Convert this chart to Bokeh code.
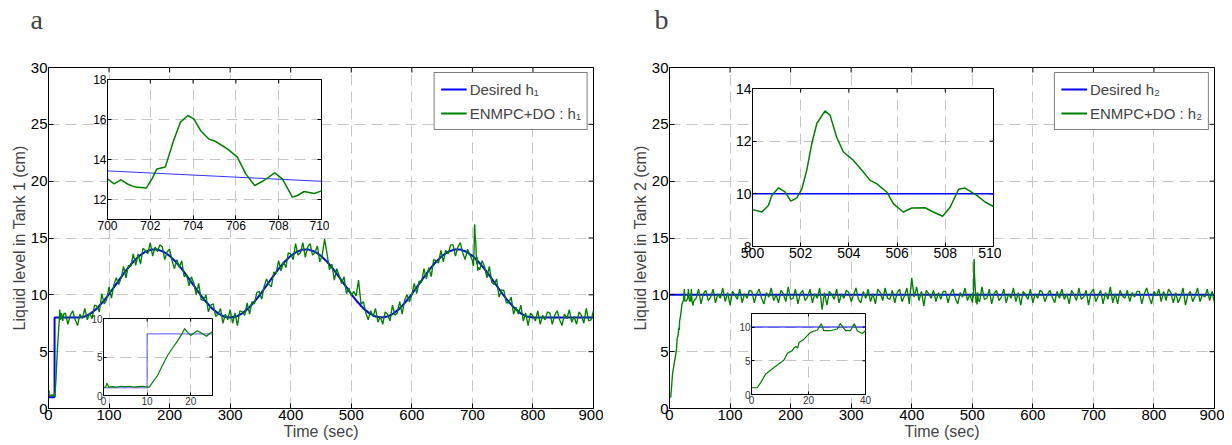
import math
from bokeh.plotting import figure
from bokeh.models import Range1d, FixedTicker, Legend, LegendItem
from bokeh.embed import file_html
from bokeh.resources import INLINE

# ---------------- data ----------------
# panel a : desired h1
des1_t = [0, 10, 10] + list(range(20, 801, 10)) + [900]
des1_v = [1, 1, 8, 8, 8, 8,
          8.00, 8.09, 8.37, 8.81, 9.39, 10.07, 10.81, 11.56, 12.28, 12.91, 13.43, 13.79, 13.98,
          13.98, 13.79, 13.43, 12.91, 12.28, 11.56, 10.81, 10.07, 9.39, 8.81, 8.37, 8.09, 8.00,
          8.09, 8.37, 8.81, 9.39, 10.07, 10.81, 11.56, 12.28, 12.91, 13.43, 13.79, 13.98,
          13.98, 13.79, 13.43, 12.91, 12.28, 11.56, 10.81, 10.07, 9.39, 8.81, 8.37, 8.09, 8.00,
          8.09, 8.37, 8.81, 9.39, 10.07, 10.81, 11.56, 12.28, 12.91, 13.43, 13.79, 13.98,
          13.98, 13.79, 13.43, 12.91, 12.28, 11.56, 10.81, 10.07, 9.39, 8.81, 8.37, 8.09, 8.00,
          8.00]

# panel a : measured h1, start-up detail (0-25 s)
h1_start_t = [0, 0.5, 0.8, 1.2, 2, 3, 4, 5, 6, 7, 8, 9, 10, 10.5, 11, 12.4, 13.5, 14.7, 16, 17,
              18, 18.6, 19.3, 20, 21.5, 22.5, 23.6, 25]
h1_start_v = [1.0, 1.1, 1.6, 1.1, 1.15, 1.1, 1.2, 1.15, 1.2, 1.1, 1.15, 1.2, 1.1, 1.1, 1.5, 2.6,
              3.9, 5.2, 6.3, 7.1, 8.0, 8.7, 8.2, 7.8, 8.4, 8.1, 7.7, 8.3]
# measured h1 every 4 s from 28 s to 696 s
h1_a_v = [8.4, 7.4, 8.2, 8.6, 7.8, 7.3, 8.3, 7.9, 8.8, 7.8,
          8.4, 7.9, 9.1, 9.0, 8.5, 10.1, 9.2, 9.6, 10.7, 9.7,
          10.9, 11.5, 10.9, 11.5, 12.5, 11.5, 12.6, 12.5, 13.6, 12.6,
          13.6, 12.7, 14.1, 13.9, 13.6, 14.6, 13.4, 14.2, 13.8, 14.4,
          14.2, 13.1, 13.8, 14.0, 13.0, 12.3, 13.1, 12.4, 13.0, 11.6,
          11.8, 10.8, 11.6, 11.0, 10.0, 11.0, 9.6, 9.5, 10.0, 8.5,
          9.1, 9.2, 8.1, 8.3, 8.8, 7.5, 8.3, 7.8, 8.7, 7.5,
          8.4, 7.3, 8.6, 8.5, 8.2, 9.3, 8.3, 9.4, 9.2, 10.2,
          10.3, 9.6, 10.7, 11.4, 10.9, 10.7, 12.0, 11.9, 13.0, 12.1,
          12.9, 12.4, 13.7, 13.6, 13.1, 14.5, 13.5, 13.7, 14.6, 13.3,
          14.2, 14.5, 13.5, 13.7, 14.3, 12.9, 13.5, 14.9, 13.6, 12.2,
          12.7, 11.3, 12.3, 11.7, 11.0, 11.6, 10.1, 10.6, 9.9, 10.3,
          9.9, 11.3, 9.2, 9.4, 8.4, 7.8, 8.6, 8.1, 8.8, 7.6,
          8.1, 7.4, 8.5, 8.3, 7.7, 9.1, 8.2, 8.4, 9.4, 8.3,
          9.5, 10.0, 9.4, 10.0, 11.0, 10.1, 11.2, 11.1, 12.3, 11.4,
          12.4, 11.6, 13.1, 13.0, 12.8, 13.9, 12.9, 13.9, 13.6, 14.4,
          14.4, 13.4, 14.2, 14.6, 13.7, 13.1, 14.0, 13.5]
# measured h1 detail 700-710 s
h1_zoom_t = [700.0, 700.31, 700.63, 700.98, 701.3, 701.81, 702.08, 702.31, 702.7, 703.09,
             703.41, 703.75, 704.03, 704.35, 704.73, 705.05, 705.6, 706.07, 706.46, 706.88,
             707.31, 707.81, 708.17, 708.64, 708.88, 709.19, 709.66, 710.0]
h1_zoom_v = [13.03, 12.78, 12.98, 12.75, 12.62, 12.57, 13.03, 13.53, 13.62, 14.95,
             15.87, 16.2, 16.03, 15.45, 15.03, 14.9, 14.53, 14.12, 13.28, 12.7,
             12.95, 13.33, 13.03, 12.12, 12.2, 12.4, 12.3, 12.43]
# measured h1 every 4 s from 712 s to 900 s
h1_b_v = [12.2, 13.0, 12.5, 11.5, 12.5, 11.1, 10.9, 11.4, 9.8, 10.4,
          10.4, 9.3, 9.3, 9.8, 8.3, 8.9, 8.3, 9.1, 7.7, 8.4,
          7.3, 8.4, 8.1, 7.7, 8.6, 7.4, 8.2, 7.8, 8.5, 8.4,
          7.4, 8.2, 8.6, 7.8, 7.3, 8.3, 7.9, 8.7, 7.6, 8.1,
          7.4, 8.5, 8.2, 7.5, 8.8, 7.7, 7.8, 8.6]

# panel b : desired h2
des2_t = [0, 900]
des2_v = [10, 10]
# measured h2 start-up detail (0-40 s)
h2_start_t = [0, 2, 3.3, 5.0, 7.9, 11.4, 12.6, 14.3, 14.9, 15.5, 16.2, 16.7, 18.4, 20.7, 23.1,
              24.5, 25.4, 27.7, 30.1, 31.2, 33.0, 34.7, 36.1, 37.1, 38.8, 40]
h2_start_v = [1.0, 1.0, 1.8, 3.05, 4.0, 5.1, 6.1, 6.5, 6.9, 7.1, 6.9, 7.7, 8.2, 9.2, 9.55,
              10.5, 9.45, 9.45, 9.7, 10.5, 9.45, 9.45, 10.5, 9.45, 9.05, 9.45]
# measured h2 every 4 s from 44 s to 496 s
h2_a_v = [9.7, 10.5, 9.2, 10.1, 10.4, 9.5, 9.8, 10.5, 9.3, 10.1,
          9.7, 10.6, 9.4, 10.2, 9.1, 10.3, 10.0, 9.6, 10.5, 9.3,
          10.1, 9.7, 10.4, 10.3, 9.3, 10.1, 10.5, 9.7, 9.2, 10.2,
          9.8, 10.6, 9.5, 10.0, 9.3, 10.4, 10.1, 9.4, 10.7, 9.6,
          9.7, 10.5, 9.2, 10.1, 10.4, 9.5, 9.8, 10.5, 9.3, 10.1,
          9.7, 10.6, 8.7, 10.2, 9.1, 10.3, 10.0, 9.6, 10.5, 9.3,
          10.1, 9.7, 10.4, 10.2, 9.4, 10.0, 10.6, 9.6, 9.3, 10.3,
          9.7, 10.5, 9.4, 10.1, 9.2, 10.5, 10.2, 9.5, 10.6, 9.7,
          9.6, 10.4, 9.3, 10.2, 10.5, 9.4, 9.9, 10.6, 9.2, 11.5,
          9.8, 10.7, 9.5, 10.3, 9.0, 10.4, 10.1, 9.7, 10.4, 9.4,
          10.2, 9.6, 10.3, 10.3, 9.3, 10.1, 10.5, 9.7, 9.2, 10.2,
          9.8, 10.6, 9.5, 10.0]
# measured h2 detail 500-510 s
h2_zoom_t = [500, 500.39, 500.66, 500.8, 501.08, 501.35, 501.59, 501.84, 502.05, 502.25,
             502.46, 502.67, 503.01, 503.22, 503.49, 503.77, 504.19, 504.6, 504.88, 505.15,
             505.57, 505.85, 506.26, 506.61, 507.16, 507.5, 507.89, 508.2, 508.55, 508.82,
             509.31, 509.65, 510]
h2_zoom_v = [9.40, 9.31, 9.56, 9.94, 10.23, 10.07, 9.72, 9.85, 10.19, 10.89,
             11.91, 12.67, 13.15, 12.98, 12.16, 11.59, 11.27, 10.83, 10.51, 10.39,
             10.07, 9.62, 9.31, 9.46, 9.47, 9.31, 9.15, 9.49, 10.17, 10.22,
             9.94, 9.69, 9.52]
# measured h2 every 4 s from 512 s to 900 s
h2_b_v = [9.4, 10.7, 9.6, 9.7, 10.5, 9.2, 10.1, 10.4, 9.5, 9.8,
          10.5, 9.3, 10.1, 9.7, 10.6, 9.4, 10.2, 9.1, 10.3, 10.0,
          9.6, 10.5, 9.3, 10.1, 9.7, 10.4, 10.2, 9.4, 10.0, 10.4,
          9.8, 9.3, 10.3, 9.7, 10.5, 9.6, 10.1, 9.2, 10.4, 10.0,
          9.5, 10.6, 9.6, 9.8, 10.4, 9.1, 10.2, 10.5, 9.4, 9.9,
          10.4, 9.2, 10.2, 9.6, 10.7, 9.3, 10.1, 9.2, 10.4, 9.9,
          9.7, 10.4, 9.4, 10.2, 9.8, 10.3, 10.3, 9.2, 10.1, 10.6,
          9.8, 9.2, 10.3, 9.9, 10.5, 9.4, 10.3, 9.5, 10.5, 10.2,
          9.3, 10.2, 9.3, 9.8, 10.6, 9.1, 10.0, 10.3, 9.4, 9.9,
          10.6, 9.4, 10.0, 9.8, 10.5, 9.5, 10.3, 9.3]

x_ticks_main = list(range(0, 901, 100))
y_ticks_main = list(range(0, 31, 5))

# assemble measured series (sample times on a 4 s grid)
h1_t = (h1_start_t + [28 + 4 * i for i in range(len(h1_a_v))] + h1_zoom_t
        + [712 + 4 * i for i in range(len(h1_b_v))])
h1_v = h1_start_v + h1_a_v + h1_zoom_v + h1_b_v
h2_t = (h2_start_t + [44 + 4 * i for i in range(len(h2_a_v))] + h2_zoom_t
        + [512 + 4 * i for i in range(len(h2_b_v))])
h2_v = h2_start_v + h2_a_v + h2_zoom_v + h2_b_v

# ---------------- style ----------------
SANS = "Liberation Sans"
SERIF = "Liberation Serif"
GRID = "#c6c6c6"
BLUE = "#0000ff"
GREEN = "#008000"


def make_fig(fl, ft, fw, fh, xr, yr, xt, yt, bl, bt, br, bb, fs, tick_len,
             lab_color="#000000", border_fill=None):
    p = figure(x_range=Range1d(*xr), y_range=Range1d(*yr),
               frame_width=fw, frame_height=fh,
               min_border_left=bl, min_border_top=bt, min_border_right=br, min_border_bottom=bb,
               output_backend="svg", toolbar_location=None, tools="",
               styles={"position": "absolute", "left": f"{fl - bl}px", "top": f"{ft - bt}px"})
    p.border_fill_color = border_fill
    p.background_fill_color = "white"
    p.outline_line_color = "black"
    p.outline_line_width = 1
    for ax, ticks in ((p.xaxis[0], xt), (p.yaxis[0], yt)):
        ax.ticker = FixedTicker(ticks=ticks)
        ax.major_tick_in = tick_len
        ax.major_tick_out = 0
        ax.minor_tick_in = 0
        ax.minor_tick_out = 0
        ax.major_tick_line_color = "black"
        ax.axis_line_color = "black"
        ax.major_label_text_font = SANS
        ax.major_label_text_font_size = fs
        ax.major_label_text_color = lab_color
        ax.major_label_standoff = 1
        ax.axis_label_text_font = SANS
        ax.axis_label_text_font_style = "normal"
        ax.axis_label_text_font_size = "16px"
        ax.axis_label_standoff = 0
    p.xgrid[0].ticker = FixedTicker(ticks=xt)
    p.ygrid[0].ticker = FixedTicker(ticks=yt)
    for g in (p.xgrid[0], p.ygrid[0]):
        g.grid_line_color = GRID
        g.grid_line_dash = "11 6"
        g.grid_line_width = 1
    # mirrored inward ticks on the top and right edges (clipped to the frame)
    p.scatter(xt, [yr[1]] * len(xt), marker="dash", size=2 * tick_len, angle=math.pi / 2,
              line_color="black", line_width=1)
    p.scatter([xr[1]] * len(yt), yt, marker="dash", size=2 * tick_len,
              line_color="black", line_width=1)
    return p


def letter_fig(text, left, top):
    p = figure(frame_width=24, frame_height=2, min_border_left=0, min_border_right=0,
               min_border_top=0, min_border_bottom=0, title=text,
               output_backend="svg", toolbar_location=None, tools="",
               styles={"position": "absolute", "left": f"{left}px", "top": f"{top}px"})
    p.axis.visible = False
    p.grid.visible = False
    p.outline_line_color = None
    p.background_fill_color = None
    p.border_fill_color = None
    p.title.text_font = SERIF
    p.title.text_font_size = "28px"
    p.title.text_font_style = "normal"
    p.title.align = "left"
    p.title.offset = 0
    p.title.standoff = 0
    return p


def main_panel(fl, ylabel, dt, dv, mt, mv, sub):
    p = make_fig(fl, 67, 545, 341, (0, 900), (0, 30), x_ticks_main, y_ticks_main,
                 48, 67, 10, 37, "15px", 5, border_fill="white")
    p.xaxis[0].axis_label = "Time (sec)"
    p.yaxis[0].axis_label = ylabel
    p.line(dt, dv, line_color=BLUE, line_width=2)
    p.line(mt, mv, line_color=GREEN, line_width=1.35)
    # legend keys (single point: no visible line, only the legend sample)
    k1 = p.line(dt[:1], dv[:1], line_color=BLUE, line_width=2)
    k2 = p.line(mt[:1], mv[:1], line_color=GREEN, line_width=2)
    leg = Legend(items=[LegendItem(label="Desired h" + sub, renderers=[k1]),
                        LegendItem(label="ENMPC+DO : h" + sub, renderers=[k2])],
                 location="top_right")
    leg.margin = 5
    leg.padding = 6
    leg.spacing = 4
    leg.glyph_width = 26
    leg.glyph_height = 20
    leg.label_height = 20
    leg.label_standoff = 3
    leg.label_text_font = SANS
    leg.label_text_font_size = "15px"
    leg.border_line_color = "black"
    leg.border_line_width = 1
    leg.background_fill_color = "white"
    leg.background_fill_alpha = 1
    p.add_layout(leg)
    return p


pa = main_panel(48, "Liquid level in Tank 1 (cm)", des1_t, des1_v, h1_t, h1_v, "\u2081")
pb = main_panel(669, "Liquid level in Tank 2 (cm)", des2_t, des2_v, h2_t, h2_v, "\u2082")
la = letter_fig("a", 30, 1)
lb = letter_fig("b", 654, 1)

# insets
ia1 = make_fig(107, 79, 214, 140, (700, 710), (11, 18), list(range(700, 711, 2)), [12, 14, 16, 18],
               28, 8, 8, 20, "12px", 4)
ia1.line(des1_t, des1_v, line_color="#3333ff", line_width=1)
ia1.line(h1_t, h1_v, line_color=GREEN, line_width=1.5)

ia2 = make_fig(103, 318, 109, 77, (0, 25), (0, 10), [0, 10, 20], [0, 5, 10],
               20, 6, 6, 16, "10px", 3, lab_color="#333333")
ia2.line(des1_t, des1_v, line_color="#5555ff", line_width=1)
ia2.line(h1_t, h1_v, line_color=GREEN, line_width=1.2)

ib1 = make_fig(752, 88, 241, 158, (500, 510), (8, 14), list(range(500, 511, 2)), [8, 10, 12, 14],
               30, 8, 8, 22, "14px", 4)
ib1.line(des2_t, des2_v, line_color=BLUE, line_width=1.5)
ib1.line(h2_t, h2_v, line_color=GREEN, line_width=1.5)

ib2 = make_fig(751, 313, 114, 81, (0, 40), (0, 12), [0, 20, 40], [0, 5, 10],
               20, 6, 6, 16, "10px", 3, lab_color="#333333")
ib2.line(des2_t, des2_v, line_color=BLUE, line_width=1)
ib2.line(h2_t, h2_v, line_color=GREEN, line_width=1.2)

open("out.html", "w").write(file_html([pa, pb, la, lb, ia1, ia2, ib1, ib2], INLINE))
